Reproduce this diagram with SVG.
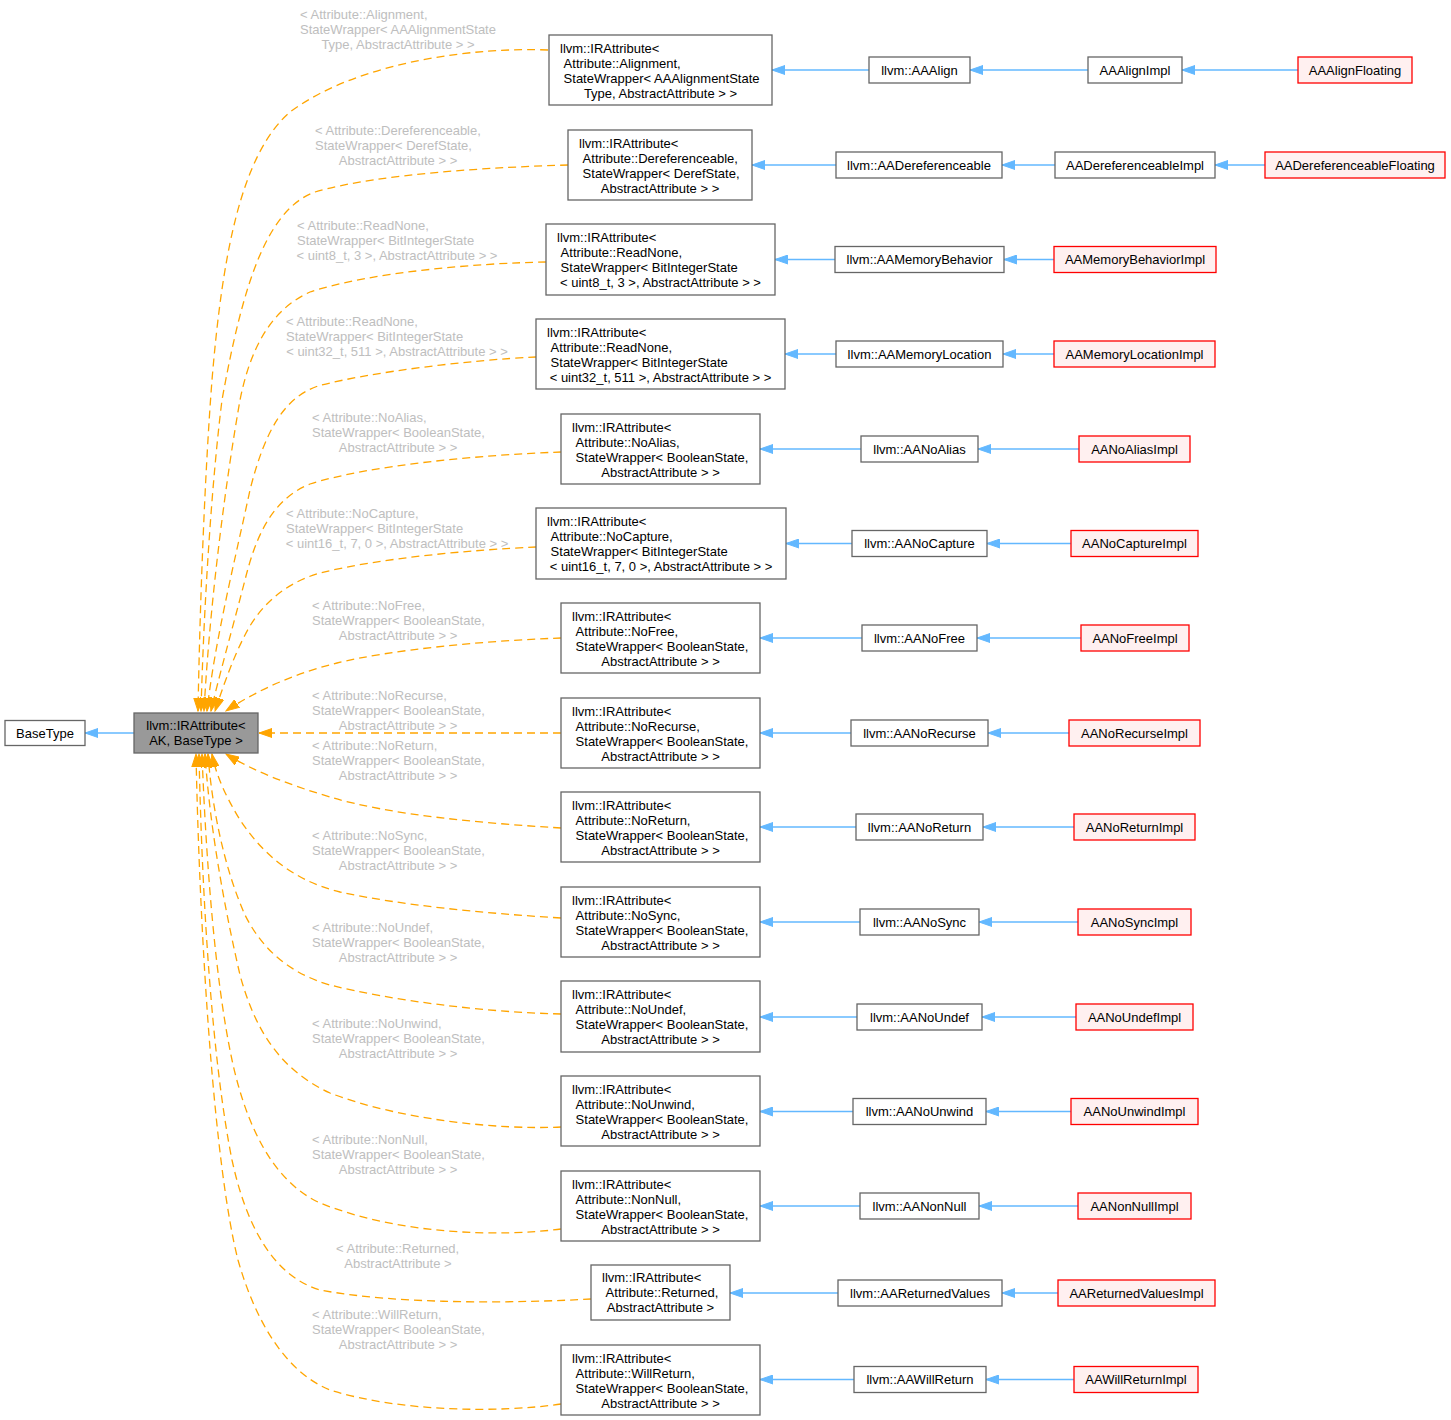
<svg xmlns="http://www.w3.org/2000/svg" width="1451" height="1420" viewBox="0 0 1451 1420">
<style>
text{font-family:"Liberation Sans",Arial,Helvetica,sans-serif;font-size:13px;fill:#000}
text.m{text-anchor:middle}
.lab text{fill:#BEBEBE}
.n rect{fill:#fff;stroke:#666;stroke-width:1.3}
.r rect{fill:#FFF0F0;stroke:#F00;stroke-width:1.3}
.g rect{fill:#999;stroke:#666;stroke-width:1.3}
.be{fill:none;stroke:#63B8FF;stroke-width:1.3;marker-end:url(#mb)}
.oe{fill:none;stroke:#FFA500;stroke-width:1.3;stroke-dasharray:8,5;marker-end:url(#mo)}
</style>
<defs>
<marker id="mb" viewBox="0 0 14 10" refX="13.3" refY="5" markerWidth="14" markerHeight="10" markerUnits="userSpaceOnUse" orient="auto"><path d="M0,0.4 L13.3,5 L0,9.6 Z" fill="#63B8FF" stroke="#63B8FF" stroke-width="1"/></marker>
<marker id="mo" viewBox="0 0 14 10" refX="13.3" refY="5" markerWidth="14" markerHeight="10" markerUnits="userSpaceOnUse" orient="auto"><path d="M0,0.4 L13.3,5 L0,9.6 Z" fill="#FFA500" stroke="#FFA500" stroke-width="1"/></marker>
</defs>
<rect width="1451" height="1420" fill="#fff"/>

<g id="edges">
<path class="be" d="M134,733 L85,733"/>
<path class="oe" d="M548,50 C480,47 360,60 290,112 C240,155 222,260 212,380 C205,470 200,600 198,711"/>
<path class="oe" d="M568,165 C500,167 380,173 315,192 C265,210 242,290 222,400 C212,480 204,600 201,711"/>
<path class="oe" d="M546,262 C480,263 370,272 310,292 C270,310 250,350 240,400 C226,480 210,600 204,711"/>
<path class="oe" d="M536,357 C470,360 370,372 318,386 C285,397 265,430 250,490 C235,560 215,640 207,711"/>
<path class="oe" d="M561,452 C480,455 370,465 310,484 C270,500 255,540 245,580 C232,630 218,680 211,711"/>
<path class="oe" d="M536,547 C470,550 380,558 320,573 C285,583 260,605 245,635 C232,660 222,690 215,711"/>
<path class="oe" d="M561,638 C480,641 390,650 337,663 C300,672 260,688 226,711"/>
<path class="oe" d="M561,733 L259,733"/>
<path class="oe" d="M561,828 C480,823 390,815 330,797 C290,785 255,772 226,754"/>
<path class="oe" d="M561,918 C480,913 400,905 340,892 C290,880 260,850 240,820 C225,795 216,775 212,754"/>
<path class="oe" d="M561,1014 C480,1012 390,1000 330,985 C285,972 260,945 245,915 C225,870 212,810 208,754"/>
<path class="oe" d="M561,1127 C500,1130 400,1120 330,1093 C280,1070 255,1030 240,975 C225,910 210,830 205,754"/>
<path class="oe" d="M561,1229 C500,1237 400,1235 320,1203 C270,1180 245,1120 232,1060 C215,980 206,860 202,754"/>
<path class="oe" d="M591,1299 C520,1303 400,1305 320,1290 C270,1275 245,1220 232,1160 C212,1060 202,900 199,754"/>
<path class="oe" d="M561,1404 C500,1413 400,1412 330,1390 C285,1372 255,1320 238,1260 C215,1170 200,950 196,754"/>

<path class="be" d="M869,70 L772,70"/>
<path class="be" d="M1088,70 L970,70"/>
<path class="be" d="M1298,70 L1182,70"/>
<path class="be" d="M836,165 L752,165"/>
<path class="be" d="M1055,165 L1002,165"/>
<path class="be" d="M1265,165 L1215,165"/>
<path class="be" d="M835,259.5 L775,259.5"/>
<path class="be" d="M1054,259.5 L1004,259.5"/>
<path class="be" d="M836,354 L785,354"/>
<path class="be" d="M1054,354 L1003,354"/>
<path class="be" d="M861,449 L760,449"/>
<path class="be" d="M1079,449 L978,449"/>
<path class="be" d="M852,543.5 L786,543.5"/>
<path class="be" d="M1071,543.5 L987,543.5"/>
<path class="be" d="M862,638 L760,638"/>
<path class="be" d="M1081,638 L977,638"/>
<path class="be" d="M851,733 L760,733"/>
<path class="be" d="M1069,733 L988,733"/>
<path class="be" d="M856,827 L760,827"/>
<path class="be" d="M1074,827 L983,827"/>
<path class="be" d="M860,922 L760,922"/>
<path class="be" d="M1078,922 L979,922"/>
<path class="be" d="M857,1017 L760,1017"/>
<path class="be" d="M1076,1017 L982,1017"/>
<path class="be" d="M853,1111.5 L760,1111.5"/>
<path class="be" d="M1071,1111.5 L986,1111.5"/>
<path class="be" d="M860,1206 L760,1206"/>
<path class="be" d="M1078,1206 L979,1206"/>
<path class="be" d="M838,1293 L730,1293"/>
<path class="be" d="M1058,1293 L1002,1293"/>
<path class="be" d="M854,1379.5 L760,1379.5"/>
<path class="be" d="M1074,1379.5 L986,1379.5"/>
</g>

<g id="edge-labels" class="lab">
<text x="300" y="18.5">&lt; Attribute::Alignment,</text>
<text x="300" y="33.5">StateWrapper&lt; AAAlignmentState</text>
<text class="m" x="398" y="48.5">Type, AbstractAttribute &gt; &gt;</text>

<text x="315" y="135">&lt; Attribute::Dereferenceable,</text>
<text x="315" y="150">StateWrapper&lt; DerefState,</text>
<text class="m" x="398" y="165">AbstractAttribute &gt; &gt;</text>

<text x="297" y="230">&lt; Attribute::ReadNone,</text>
<text x="297" y="245">StateWrapper&lt; BitIntegerState</text>
<text class="m" x="397" y="260">&lt; uint8_t, 3 &gt;, AbstractAttribute &gt; &gt;</text>

<text x="286" y="326">&lt; Attribute::ReadNone,</text>
<text x="286" y="341">StateWrapper&lt; BitIntegerState</text>
<text class="m" x="397" y="356">&lt; uint32_t, 511 &gt;, AbstractAttribute &gt; &gt;</text>

<text x="312" y="422">&lt; Attribute::NoAlias,</text>
<text x="312" y="437">StateWrapper&lt; BooleanState,</text>
<text class="m" x="398" y="452">AbstractAttribute &gt; &gt;</text>

<text x="286" y="518">&lt; Attribute::NoCapture,</text>
<text x="286" y="533">StateWrapper&lt; BitIntegerState</text>
<text class="m" x="397" y="548">&lt; uint16_t, 7, 0 &gt;, AbstractAttribute &gt; &gt;</text>

<text x="312" y="610">&lt; Attribute::NoFree,</text>
<text x="312" y="625">StateWrapper&lt; BooleanState,</text>
<text class="m" x="398" y="640">AbstractAttribute &gt; &gt;</text>

<text x="312" y="699.5">&lt; Attribute::NoRecurse,</text>
<text x="312" y="714.5">StateWrapper&lt; BooleanState,</text>
<text class="m" x="398" y="729.5">AbstractAttribute &gt; &gt;</text>

<text x="312" y="750">&lt; Attribute::NoReturn,</text>
<text x="312" y="765">StateWrapper&lt; BooleanState,</text>
<text class="m" x="398" y="780">AbstractAttribute &gt; &gt;</text>

<text x="312" y="839.5">&lt; Attribute::NoSync,</text>
<text x="312" y="854.5">StateWrapper&lt; BooleanState,</text>
<text class="m" x="398" y="869.5">AbstractAttribute &gt; &gt;</text>

<text x="312" y="932">&lt; Attribute::NoUndef,</text>
<text x="312" y="947">StateWrapper&lt; BooleanState,</text>
<text class="m" x="398" y="962">AbstractAttribute &gt; &gt;</text>

<text x="312" y="1028">&lt; Attribute::NoUnwind,</text>
<text x="312" y="1043">StateWrapper&lt; BooleanState,</text>
<text class="m" x="398" y="1058">AbstractAttribute &gt; &gt;</text>

<text x="312" y="1144">&lt; Attribute::NonNull,</text>
<text x="312" y="1159">StateWrapper&lt; BooleanState,</text>
<text class="m" x="398" y="1174">AbstractAttribute &gt; &gt;</text>

<text x="336" y="1253">&lt; Attribute::Returned,</text>
<text class="m" x="398" y="1268">AbstractAttribute &gt;</text>

<text x="312" y="1319">&lt; Attribute::WillReturn,</text>
<text x="312" y="1334">StateWrapper&lt; BooleanState,</text>
<text class="m" x="398" y="1349">AbstractAttribute &gt; &gt;</text>
</g>

<g id="node-BaseType" class="n"><rect x="5" y="720.5" width="80" height="25"/><text class="m" x="45" y="737.5">BaseType</text></g>
<g id="node-IRAttribute-AK" class="g"><rect x="134" y="713" width="124" height="40"/><text class="m" x="196" y="729.5">llvm::IRAttribute&lt;</text><text class="m" x="196" y="744.5">AK, BaseType &gt;</text></g>

<g id="node-IRA-Alignment" class="n"><rect x="549" y="35" width="223" height="70"/><text x="560" y="52.5">llvm::IRAttribute&lt;</text><text x="563.6" y="67.5">Attribute::Alignment,</text><text x="563.6" y="82.5">StateWrapper&lt; AAAlignmentState</text><text class="m" x="660.5" y="97.5">Type, AbstractAttribute &gt; &gt;</text></g>
<g id="node-IRA-Dereferenceable" class="n"><rect x="568" y="130" width="184" height="70"/><text x="579" y="147.5">llvm::IRAttribute&lt;</text><text x="582.6" y="162.5">Attribute::Dereferenceable,</text><text x="582.6" y="177.5">StateWrapper&lt; DerefState,</text><text class="m" x="660" y="192.5">AbstractAttribute &gt; &gt;</text></g>
<g id="node-IRA-ReadNone8" class="n"><rect x="546" y="224" width="229" height="71"/><text x="557" y="241.5">llvm::IRAttribute&lt;</text><text x="560.6" y="256.5">Attribute::ReadNone,</text><text x="560.6" y="271.5">StateWrapper&lt; BitIntegerState</text><text class="m" x="660.5" y="286.5">&lt; uint8_t, 3 &gt;, AbstractAttribute &gt; &gt;</text></g>
<g id="node-IRA-ReadNone32" class="n"><rect x="536" y="319" width="249" height="70"/><text x="547" y="336.5">llvm::IRAttribute&lt;</text><text x="550.6" y="351.5">Attribute::ReadNone,</text><text x="550.6" y="366.5">StateWrapper&lt; BitIntegerState</text><text class="m" x="660.5" y="381.5">&lt; uint32_t, 511 &gt;, AbstractAttribute &gt; &gt;</text></g>
<g id="node-IRA-NoAlias" class="n"><rect x="561" y="414" width="199" height="70"/><text x="572" y="431.5">llvm::IRAttribute&lt;</text><text x="575.6" y="446.5">Attribute::NoAlias,</text><text x="575.6" y="461.5">StateWrapper&lt; BooleanState,</text><text class="m" x="660.5" y="476.5">AbstractAttribute &gt; &gt;</text></g>
<g id="node-IRA-NoCapture" class="n"><rect x="536" y="508" width="250" height="71"/><text x="547" y="525.5">llvm::IRAttribute&lt;</text><text x="550.6" y="540.5">Attribute::NoCapture,</text><text x="550.6" y="555.5">StateWrapper&lt; BitIntegerState</text><text class="m" x="661" y="570.5">&lt; uint16_t, 7, 0 &gt;, AbstractAttribute &gt; &gt;</text></g>
<g id="node-IRA-NoFree" class="n"><rect x="561" y="603" width="199" height="70"/><text x="572" y="620.5">llvm::IRAttribute&lt;</text><text x="575.6" y="635.5">Attribute::NoFree,</text><text x="575.6" y="650.5">StateWrapper&lt; BooleanState,</text><text class="m" x="660.5" y="665.5">AbstractAttribute &gt; &gt;</text></g>
<g id="node-IRA-NoRecurse" class="n"><rect x="561" y="698" width="199" height="70"/><text x="572" y="715.5">llvm::IRAttribute&lt;</text><text x="575.6" y="730.5">Attribute::NoRecurse,</text><text x="575.6" y="745.5">StateWrapper&lt; BooleanState,</text><text class="m" x="660.5" y="760.5">AbstractAttribute &gt; &gt;</text></g>
<g id="node-IRA-NoReturn" class="n"><rect x="561" y="792" width="199" height="70"/><text x="572" y="809.5">llvm::IRAttribute&lt;</text><text x="575.6" y="824.5">Attribute::NoReturn,</text><text x="575.6" y="839.5">StateWrapper&lt; BooleanState,</text><text class="m" x="660.5" y="854.5">AbstractAttribute &gt; &gt;</text></g>
<g id="node-IRA-NoSync" class="n"><rect x="561" y="887" width="199" height="70"/><text x="572" y="904.5">llvm::IRAttribute&lt;</text><text x="575.6" y="919.5">Attribute::NoSync,</text><text x="575.6" y="934.5">StateWrapper&lt; BooleanState,</text><text class="m" x="660.5" y="949.5">AbstractAttribute &gt; &gt;</text></g>
<g id="node-IRA-NoUndef" class="n"><rect x="561" y="981" width="199" height="71"/><text x="572" y="998.5">llvm::IRAttribute&lt;</text><text x="575.6" y="1013.5">Attribute::NoUndef,</text><text x="575.6" y="1028.5">StateWrapper&lt; BooleanState,</text><text class="m" x="660.5" y="1043.5">AbstractAttribute &gt; &gt;</text></g>
<g id="node-IRA-NoUnwind" class="n"><rect x="561" y="1076" width="199" height="70"/><text x="572" y="1093.5">llvm::IRAttribute&lt;</text><text x="575.6" y="1108.5">Attribute::NoUnwind,</text><text x="575.6" y="1123.5">StateWrapper&lt; BooleanState,</text><text class="m" x="660.5" y="1138.5">AbstractAttribute &gt; &gt;</text></g>
<g id="node-IRA-NonNull" class="n"><rect x="561" y="1171" width="199" height="70"/><text x="572" y="1188.5">llvm::IRAttribute&lt;</text><text x="575.6" y="1203.5">Attribute::NonNull,</text><text x="575.6" y="1218.5">StateWrapper&lt; BooleanState,</text><text class="m" x="660.5" y="1233.5">AbstractAttribute &gt; &gt;</text></g>
<g id="node-IRA-Returned" class="n"><rect x="591" y="1265" width="139" height="55"/><text x="602" y="1282">llvm::IRAttribute&lt;</text><text x="605.6" y="1297">Attribute::Returned,</text><text class="m" x="660.5" y="1312">AbstractAttribute &gt;</text></g>
<g id="node-IRA-WillReturn" class="n"><rect x="561" y="1345" width="199" height="70"/><text x="572" y="1362.5">llvm::IRAttribute&lt;</text><text x="575.6" y="1377.5">Attribute::WillReturn,</text><text x="575.6" y="1392.5">StateWrapper&lt; BooleanState,</text><text class="m" x="660.5" y="1407.5">AbstractAttribute &gt; &gt;</text></g>

<g id="node-AAAlign" class="n"><rect x="869" y="57" width="101" height="26"/><text class="m" x="919.5" y="74.5">llvm::AAAlign</text></g>
<g id="node-AADereferenceable" class="n"><rect x="836" y="152" width="166" height="26"/><text class="m" x="919" y="169.5">llvm::AADereferenceable</text></g>
<g id="node-AAMemoryBehavior" class="n"><rect x="835" y="246.5" width="169" height="26"/><text class="m" x="919.5" y="264">llvm::AAMemoryBehavior</text></g>
<g id="node-AAMemoryLocation" class="n"><rect x="836" y="341" width="167" height="26"/><text class="m" x="919.5" y="358.5">llvm::AAMemoryLocation</text></g>
<g id="node-AANoAlias" class="n"><rect x="861" y="436" width="117" height="26"/><text class="m" x="919.5" y="453.5">llvm::AANoAlias</text></g>
<g id="node-AANoCapture" class="n"><rect x="852" y="530.5" width="135" height="26"/><text class="m" x="919.5" y="548">llvm::AANoCapture</text></g>
<g id="node-AANoFree" class="n"><rect x="862" y="625" width="115" height="26"/><text class="m" x="919.5" y="642.5">llvm::AANoFree</text></g>
<g id="node-AANoRecurse" class="n"><rect x="851" y="720" width="137" height="26"/><text class="m" x="919.5" y="737.5">llvm::AANoRecurse</text></g>
<g id="node-AANoReturn" class="n"><rect x="856" y="814" width="127" height="26"/><text class="m" x="919.5" y="831.5">llvm::AANoReturn</text></g>
<g id="node-AANoSync" class="n"><rect x="860" y="909" width="119" height="26"/><text class="m" x="919.5" y="926.5">llvm::AANoSync</text></g>
<g id="node-AANoUndef" class="n"><rect x="857" y="1004" width="125" height="26"/><text class="m" x="919.5" y="1021.5">llvm::AANoUndef</text></g>
<g id="node-AANoUnwind" class="n"><rect x="853" y="1098.5" width="133" height="26"/><text class="m" x="919.5" y="1116">llvm::AANoUnwind</text></g>
<g id="node-AANonNull" class="n"><rect x="860" y="1193" width="119" height="26"/><text class="m" x="919.5" y="1210.5">llvm::AANonNull</text></g>
<g id="node-AAReturnedValues" class="n"><rect x="838" y="1280" width="164" height="26"/><text class="m" x="920" y="1297.5">llvm::AAReturnedValues</text></g>
<g id="node-AAWillReturn" class="n"><rect x="854" y="1366.5" width="132" height="26"/><text class="m" x="920" y="1384">llvm::AAWillReturn</text></g>

<g id="node-AAAlignImpl" class="n"><rect x="1088" y="57" width="94" height="26"/><text class="m" x="1135" y="74.5">AAAlignImpl</text></g>
<g id="node-AADereferenceableImpl" class="n"><rect x="1055" y="152" width="160" height="26"/><text class="m" x="1135" y="169.5">AADereferenceableImpl</text></g>
<g id="node-AAMemoryBehaviorImpl" class="r"><rect x="1054" y="246.5" width="162" height="26"/><text class="m" x="1135" y="264">AAMemoryBehaviorImpl</text></g>
<g id="node-AAMemoryLocationImpl" class="r"><rect x="1054" y="341" width="161" height="26"/><text class="m" x="1134.5" y="358.5">AAMemoryLocationImpl</text></g>
<g id="node-AANoAliasImpl" class="r"><rect x="1079" y="436" width="111" height="26"/><text class="m" x="1134.5" y="453.5">AANoAliasImpl</text></g>
<g id="node-AANoCaptureImpl" class="r"><rect x="1071" y="530.5" width="127" height="26"/><text class="m" x="1134.5" y="548">AANoCaptureImpl</text></g>
<g id="node-AANoFreeImpl" class="r"><rect x="1081" y="625" width="108" height="26"/><text class="m" x="1135" y="642.5">AANoFreeImpl</text></g>
<g id="node-AANoRecurseImpl" class="r"><rect x="1069" y="720" width="131" height="26"/><text class="m" x="1134.5" y="737.5">AANoRecurseImpl</text></g>
<g id="node-AANoReturnImpl" class="r"><rect x="1074" y="814" width="121" height="26"/><text class="m" x="1134.5" y="831.5">AANoReturnImpl</text></g>
<g id="node-AANoSyncImpl" class="r"><rect x="1078" y="909" width="113" height="26"/><text class="m" x="1134.5" y="926.5">AANoSyncImpl</text></g>
<g id="node-AANoUndefImpl" class="r"><rect x="1076" y="1004" width="117" height="26"/><text class="m" x="1134.5" y="1021.5">AANoUndefImpl</text></g>
<g id="node-AANoUnwindImpl" class="r"><rect x="1071" y="1098.5" width="127" height="26"/><text class="m" x="1134.5" y="1116">AANoUnwindImpl</text></g>
<g id="node-AANonNullImpl" class="r"><rect x="1078" y="1193" width="113" height="26"/><text class="m" x="1134.5" y="1210.5">AANonNullImpl</text></g>
<g id="node-AAReturnedValuesImpl" class="r"><rect x="1058" y="1280" width="157" height="26"/><text class="m" x="1136.5" y="1297.5">AAReturnedValuesImpl</text></g>
<g id="node-AAWillReturnImpl" class="r"><rect x="1074" y="1366.5" width="124" height="26"/><text class="m" x="1136" y="1384">AAWillReturnImpl</text></g>

<g id="node-AAAlignFloating" class="r"><rect x="1298" y="57" width="114" height="26"/><text class="m" x="1355" y="74.5">AAAlignFloating</text></g>
<g id="node-AADereferenceableFloating" class="r"><rect x="1265" y="152" width="180" height="26"/><text class="m" x="1355" y="169.5">AADereferenceableFloating</text></g>
</svg>
